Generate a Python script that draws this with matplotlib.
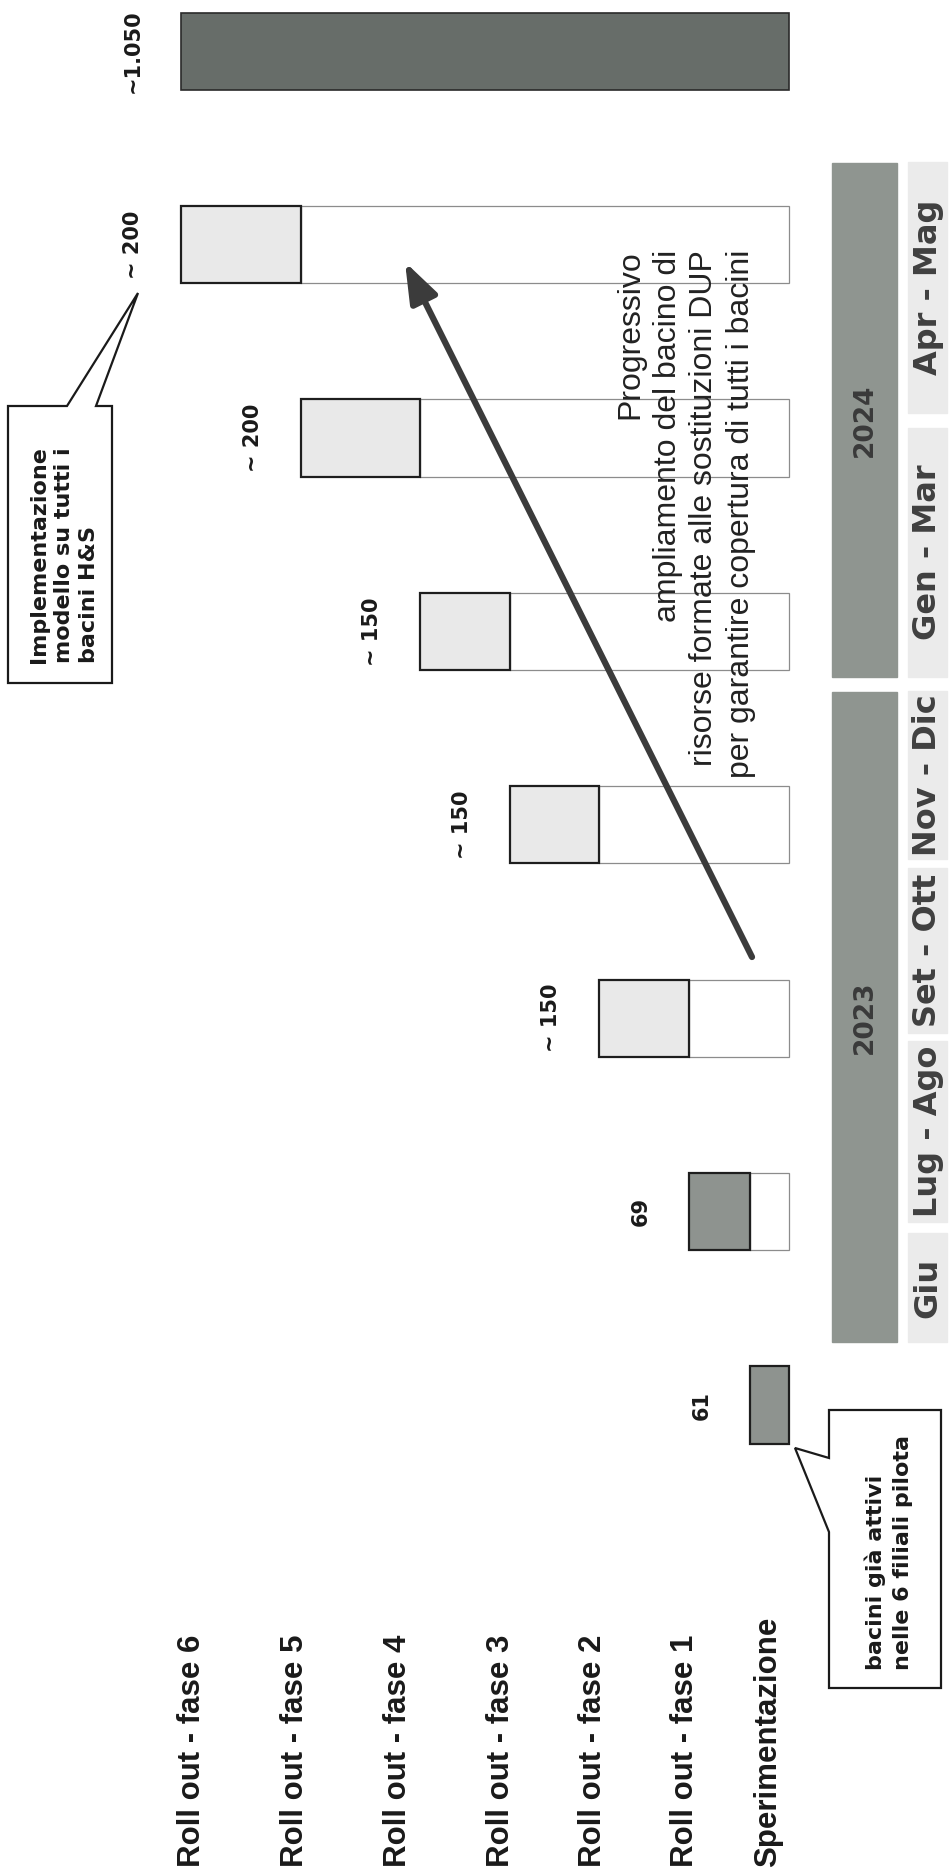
import matplotlib.pyplot as plt
from matplotlib.patches import Rectangle, Polygon
import numpy as np

# chart data (the page shows the chart turned on its side)
phases = ["Sperimentazione", "Roll out - fase 1", "Roll out - fase 2", "Roll out - fase 3",
          "Roll out - fase 4", "Roll out - fase 5", "Roll out - fase 6"]
increments = [65, 102, 150, 148, 150, 198, 200]      # bar lengths as drawn
value_labels = ["61", "69", "~ 150", "~ 150", "~ 150", "~ 200", "~ 200"]
total_label = "~1.050"
periods = ["Giu", "Lug - Ago", "Set - Ott", "Nov - Dic", "Gen - Mar", "Apr - Mag"]
years = ["2023", "2024"]
arrow_note = ("Progressivo\nampliamento del bacino di\n"
              "risorse formate alle sostituzioni DUP\nper garantire copertura di tutti i bacini")
note_top = "Implementazione\nmodello su tutti i\nbacini H&S"
note_bottom = "bacini già attivi\nnelle 6 filiali pilota"

# page layout in pixels
W, H = 952, 1876
base_px, unit_px = 789, 0.6          # value axis: zero line and pixels per unit
slot0_px, slot_px = 1405, 193.4      # time axis: first slot and slot spacing
label_x = [768, 685, 593, 501, 398, 295, 192]
period_spans = [(1233, 1342), (1041, 1222), (868, 1033), (691, 859), (428, 677), (162, 413)]
year_spans = [(692, 1342), (163, 677)]


def fx(px):
    return px / W


def fy(py):
    return 1 - py / H


def page_box(x0, y0, x1, y1, **kw):
    fig.add_artist(Rectangle((fx(x0), fy(y1)), (x1 - x0) / W, (y1 - y0) / H,
                             transform=fig.transFigure, **kw))


fig = plt.figure(figsize=(W / 100, H / 100), dpi=100)
ax = fig.add_axes([0, 0, 1, 1])
ax.axis('off')
ax.set_xlim(base_px / unit_px, (base_px - W) / unit_px)
ax.set_ylim((slot0_px - H) / slot_px, slot0_px / slot_px)

slots = np.arange(len(phases))
cum = np.concatenate([[0], np.cumsum(increments)[:-1]])
tops = cum + np.array(increments)

# waterfall columns
ax.barh(slots[1:], cum[1:], height=0.4, color='white', edgecolor='#8c8c8c', linewidth=0.9)
fills = ['#8e938f', '#8e938f'] + ['#e9e9e9'] * 5
ax.barh(slots, increments, left=cum, height=0.4, color=fills, edgecolor='#1e1e1e', linewidth=1.6)
ax.barh(len(phases), tops[-1], height=0.4, color='#676d69', edgecolor='#2a2a2a', linewidth=1.2)

for s, t, lab in zip(slots, tops, value_labels):
    ax.text(t + 80, s, lab, rotation=90, ha='center', va='center',
            fontsize=15, fontweight='bold', color='#1a1a1a')
ax.text(tops[-1] + 80, len(phases), total_label, rotation=90, ha='center', va='center',
        fontsize=15, fontweight='bold', color='#1a1a1a')

# row labels
for x, name in zip(label_x, phases):
    fig.text(fx(x), fy(1867), name, rotation=90, ha='center', va='bottom',
             fontsize=22.5, fontweight='bold', family='Liberation Sans', color='#1a1a1a')

# years and periods
for (y0, y1), yr in zip(year_spans, years):
    page_box(832, y0, 897, y1, color='#8f9590')
    fig.text(fx(864.5), fy((y0 + y1) / 2), yr, rotation=90, ha='center', va='center',
             fontsize=19, fontweight='bold', color='#3a3a3a')
for (y0, y1), p in zip(period_spans, periods):
    page_box(908, y0, 947, y1, color='#ebebeb')
    fig.text(fx(928), fy((y0 + y1) / 2), p, rotation=90, ha='center', va='center',
             fontsize=23, fontweight='bold', color='#404040')

# arrow and its note
ax.annotate('', xy=(fx(405), fy(262)), xytext=(fx(752), fy(957)), xycoords='figure fraction',
            arrowprops=dict(arrowstyle='-|>,head_length=1.1,head_width=0.4', lw=4.5,
                            color='#3b3b3b', mutation_scale=22, shrinkA=0, shrinkB=0))
fig.text(fx(686), fy(250), arrow_note, rotation=90, ha='center', va='top',
         multialignment='right', fontsize=23, linespacing=1.3,
         family='Liberation Sans', color='#222222')

# callouts
pts1 = [(8, 683), (8, 406), (67, 406), (138, 293), (96, 406), (112, 406), (112, 683)]
fig.add_artist(Polygon([(fx(a), fy(b)) for a, b in pts1], closed=True, transform=fig.transFigure,
                       facecolor='white', edgecolor='#1a1a1a', lw=1.6))
fig.text(fx(64), fy(663), note_top, rotation=90, ha='center', va='bottom',
         multialignment='left', fontsize=16, fontweight='bold', linespacing=1.3, color='#1a1a1a')

pts2 = [(829, 1410), (941, 1410), (941, 1688), (829, 1688), (829, 1532), (795, 1448), (829, 1458)]
fig.add_artist(Polygon([(fx(a), fy(b)) for a, b in pts2], closed=True, transform=fig.transFigure,
                       facecolor='white', edgecolor='#1a1a1a', lw=1.6))
fig.text(fx(889), fy(1670), note_bottom, rotation=90, ha='center', va='bottom',
         multialignment='left', fontsize=16, fontweight='bold', linespacing=1.45, color='#1a1a1a')

fig.savefig('out.png', dpi=100)
